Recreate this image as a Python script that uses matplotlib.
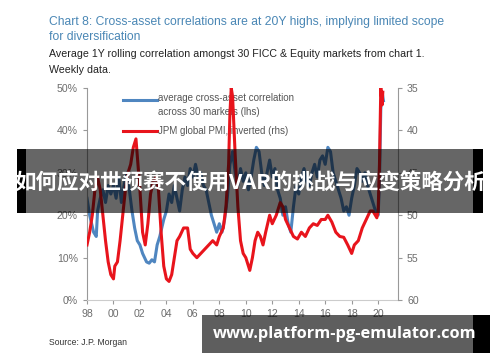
import matplotlib
matplotlib.use("Agg")
import matplotlib.pyplot as plt
from matplotlib.patches import Rectangle

# average cross-asset correlation (lhs, %)
corr_years = [1998.0, 1998.2, 1998.5, 1998.7, 1998.8, 1999.0, 1999.2, 1999.4, 1999.6, 1999.8,
              2000.0, 2000.2, 2000.4, 2000.6, 2000.8, 2001.0, 2001.2, 2001.4, 2001.6, 2001.8,
              2002.0, 2002.2, 2002.5, 2002.7, 2002.9, 2003.1, 2003.3, 2003.5, 2003.8, 2004.0,
              2004.2, 2004.4, 2004.6, 2004.8, 2005.0, 2005.2, 2005.4, 2005.6, 2005.8, 2006.0,
              2006.2, 2006.4, 2006.6, 2006.8, 2007.0, 2007.2, 2007.4, 2007.6, 2007.8, 2008.0,
              2008.2, 2008.4, 2008.6, 2008.8, 2009.0, 2009.2, 2009.4, 2009.6, 2009.8, 2010.0,
              2010.2, 2010.4, 2010.6, 2010.8, 2011.0, 2011.2, 2011.4, 2011.6, 2011.8, 2012.0,
              2012.2, 2012.4, 2012.6, 2012.8, 2013.0, 2013.2, 2013.4, 2013.6, 2013.8, 2014.0,
              2014.2, 2014.4, 2014.6, 2014.8, 2015.0, 2015.2, 2015.4, 2015.6, 2015.8, 2016.0,
              2016.2, 2016.4, 2016.6, 2016.8, 2017.0, 2017.2, 2017.4, 2017.6, 2017.8, 2018.0,
              2018.2, 2018.4, 2018.6, 2018.8, 2019.0, 2019.2, 2019.4, 2019.6, 2019.8, 2020.0,
              2020.1, 2020.2, 2020.3, 2020.4]
corr_pct = [24, 20, 16, 15, 21, 24, 26, 23, 27, 25,
            27, 24, 29, 23, 27, 30, 26, 21, 17, 14,
            13, 11, 9, 8.7, 9.5, 9, 13, 15, 19, 21,
            25, 23, 27, 24, 21, 26, 29, 27, 31, 29,
            32, 29, 30, 27, 26, 23, 20, 18, 16, 18,
            16, 19, 24, 32, 35, 30, 27, 31, 28, 30,
            26, 29, 33, 36, 35, 30, 27, 30, 33, 29,
            31, 26, 24, 20, 22, 18, 16, 22, 27, 25,
            29, 31, 28, 27, 30, 32, 29, 33, 34, 32,
            36, 35, 30, 28, 26, 24, 21, 22, 20, 24,
            27, 31, 30, 28, 30, 27, 25, 23, 21, 20,
            28, 45, 49, 47]

# JPM global PMI, inverted (rhs)
pmi_years = [1998.0, 1998.2, 1998.4, 1998.6, 1998.8, 1999.0, 1999.2, 1999.4, 1999.6, 1999.8,
             2000.0, 2000.1, 2000.3, 2000.5, 2000.7, 2000.9, 2001.1, 2001.3, 2001.5, 2001.7,
             2001.8, 2002.0, 2002.2, 2002.4, 2002.6, 2002.8, 2003.0, 2003.2, 2003.4, 2003.6,
             2003.8, 2004.0, 2004.2, 2004.4, 2004.6, 2004.8, 2005.0, 2005.3, 2005.6, 2005.8,
             2006.0, 2006.3, 2006.6, 2006.9, 2007.2, 2007.5, 2007.8, 2008.0, 2008.3, 2008.5,
             2008.7, 2008.8, 2008.9, 2009.0, 2009.2, 2009.4, 2009.6, 2009.8, 2010.0, 2010.3,
             2010.5, 2010.7, 2010.9, 2011.1, 2011.3, 2011.5, 2011.8, 2012.0, 2012.3, 2012.6,
             2012.8, 2013.0, 2013.3, 2013.6, 2013.9, 2014.2, 2014.5, 2014.8, 2015.1, 2015.4,
             2015.7, 2016.0, 2016.2, 2016.5, 2016.8, 2017.1, 2017.4, 2017.7, 2018.0, 2018.2,
             2018.5, 2018.8, 2019.1, 2019.4, 2019.6, 2019.9, 2020.0, 2020.1, 2020.2, 2020.3,
             2020.35]
pmi_inv = [53.5, 52, 50, 47, 45.5, 47, 50, 53, 55.5, 57,
           57.5, 56, 55.5, 53, 50, 47, 45, 44, 42, 41,
           43, 47, 52, 53.5, 51, 47.5, 46, 45.5, 47, 52,
           56, 57.5, 57.8, 57, 55, 53, 52.5, 51.5, 51.5, 54,
           54.5, 55, 54.5, 54, 53.5, 53, 53.5, 52.5, 51.5, 49,
           44, 38, 35, 36, 43, 49, 53, 54.5, 55, 56.5,
           55, 53, 52, 52.5, 53.5, 52, 50, 51, 50, 48.5,
           49, 50.5, 51.5, 52.5, 52.8, 52, 52.5, 51.5, 51, 51.2,
           50.5, 50.5, 50, 50.8, 52, 52.5, 52.6, 53.5, 54.5, 53.5,
           53, 51.5, 50.5, 49.5, 49.5, 50.3, 49.5, 44, 35, 37,
           35.5]

x_ticks = list(range(1998, 2021, 2))
x_labels = ['98', '00', '02', '04', '06', '08', '10', '12', '14', '16', '18', '20']
left_ticks = [0, 10, 20, 30, 40, 50]
right_ticks = [35, 40, 45, 50, 55, 60]

BLUE = '#4f86c0'
RED = '#e8141c'
GREY = '#6d6d6d'

plt.rcParams['font.family'] = ['Liberation Sans', 'DejaVu Sans']

fig = plt.figure(figsize=(5, 3.62), dpi=100)
ax = fig.add_axes([0.174, 0.171, 0.622, 0.586])
ax2 = ax.twinx()

ax.plot(corr_years, corr_pct, color=BLUE, lw=2.2)
ax2.plot(pmi_years, pmi_inv, color=RED, lw=2.2)

ax.set_xlim(1998, 2021.5)
ax.set_ylim(0, 50)
ax2.set_ylim(60, 35)

ax.set_xticks(x_ticks)
ax.set_xticklabels(x_labels)
ax.set_yticks(left_ticks)
ax.set_yticklabels([f'{v}%' for v in left_ticks])
ax2.set_yticks(right_ticks)

for a in (ax, ax2):
    a.spines['top'].set_visible(False)
    for s in a.spines.values():
        s.set_color('#999999')
        s.set_linewidth(0.8)
    a.tick_params(labelsize=7.6, colors='#999999', labelcolor=GREY, length=3, width=0.8)
ax.spines['right'].set_visible(False)
ax.spines['bottom'].set_color('#cccccc')
ax2.spines['left'].set_visible(False)
ax2.spines['bottom'].set_visible(False)

# legend drawn by hand so the handle sits on the first text line
leg_x0, leg_x1, leg_tx = 0.116, 0.225, 0.229
ax.plot([leg_x0, leg_x1], [0.943, 0.943], transform=ax.transAxes, color=BLUE, lw=2.2, clip_on=False)
ax.text(leg_tx, 0.975, 'average cross-asset correlation\nacross 30 markets (lhs)', transform=ax.transAxes,
        fontsize=7.0, color='#555555', va='top', ha='left', linespacing=1.5)
ax.plot([leg_x0, leg_x1], [0.795, 0.795], transform=ax.transAxes, color=RED, lw=2.2, clip_on=False)
ax.text(leg_tx, 0.795, 'JPM global PMI, inverted (rhs)', transform=ax.transAxes,
        fontsize=7.0, color='#555555', va='center', ha='left')

fig.text(0.098, 0.956, 'Chart 8: Cross-asset correlations are at 20Y highs, implying limited scope\nfor diversification',
         fontsize=8.7, color='#4a87b5', va='top', ha='left', linespacing=1.35)
fig.text(0.098, 0.864, 'Average 1Y rolling correlation amongst 30 FICC & Equity markets from chart 1.\nWeekly data.',
         fontsize=7.7, color='#222222', va='top', ha='left', linespacing=1.75)
fig.text(0.098, 0.055, 'Source: J.P. Morgan', fontsize=6.2, color='#333333', va='center', ha='left')

# overlay banner
fig.add_artist(Rectangle((0.052, 0.412), 0.894, 0.176, transform=fig.transFigure,
                         facecolor='black', alpha=0.6, edgecolor='none', zorder=10))
fig.add_artist(Rectangle((0.034, 0.412), 0.018, 0.176, transform=fig.transFigure,
                         facecolor='black', edgecolor='none', zorder=10))
fig.add_artist(Rectangle((0.946, 0.412), 0.020, 0.176, transform=fig.transFigure,
                         facecolor='black', edgecolor='none', zorder=10))
fig.text(0.5, 0.495, '如何应对世预赛不使用VAR的挑战与应变策略分析', color='white', fontsize=15.5,
         fontweight='bold', family=['Noto Sans CJK SC', 'DejaVu Sans'], ha='center', va='center', zorder=11)

# watermark
fig.add_artist(Rectangle((0.404, 0.025), 0.542, 0.105, transform=fig.transFigure,
                         facecolor='black', alpha=0.63, edgecolor='none', zorder=10))
fig.add_artist(Rectangle((0.946, 0.025), 0.034, 0.105, transform=fig.transFigure,
                         facecolor='black', edgecolor='none', zorder=10))
fig.text(0.69, 0.077, 'www.platform-pg-emulator.com', color='white', fontsize=11.8, fontweight='bold',
         family=['Open Sans', 'DejaVu Sans'], ha='center', va='center', zorder=11)

fig.savefig('out.png', dpi=100)
